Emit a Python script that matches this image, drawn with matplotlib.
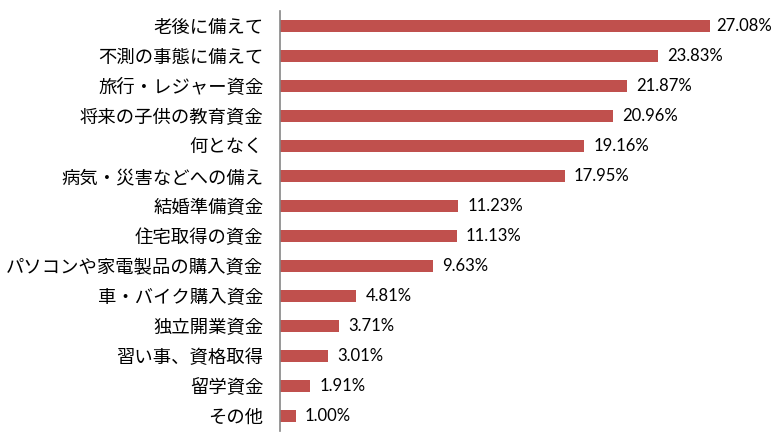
import matplotlib
matplotlib.use("Agg")
import matplotlib.pyplot as plt

plt.rcParams['font.family'] = ['Noto Sans CJK JP', 'DejaVu Sans']

categories = ["老後に備えて", "不測の事態に備えて", "旅行・レジャー資金", "将来の子供の教育資金",
              "何となく", "病気・災害などへの備え", "結婚準備資金", "住宅取得の資金",
              "パソコンや家電製品の購入資金", "車・バイク購入資金", "独立開業資金",
              "習い事、資格取得", "留学資金", "その他"]
values = [27.08, 23.83, 21.87, 20.96, 19.16, 17.95, 11.23, 11.13, 9.63, 4.81, 3.71, 3.01, 1.91, 1.00]
value_labels = ["27.08%", "23.83%", "21.87%", "20.96%", "19.16%", "17.95%", "11.23%", "11.13%",
                "9.63%", "4.81%", "3.71%", "3.01%", "1.91%", "1.00%"]

W, H = 777, 437
fig = plt.figure(figsize=(W / 100, H / 100), dpi=100)
xmax = 30.0
px_per_unit = 430 / 27.08
ax_w = xmax * px_per_unit
ax = fig.add_axes([280 / W, (H - 431) / H, ax_w / W, 420 / H])

ypos = list(range(len(categories)))
ax.barh(ypos, values, height=0.4, color="#C0504D")
ax.set_ylim(len(categories) - 0.5, -0.5)
ax.set_xlim(0, xmax)
ax.set_yticks(ypos)
ax.set_yticklabels(categories, fontsize=13.2, color="#000000")
ax.tick_params(axis='y', length=0, pad=12)
ax.set_xticks([])
for s in ["top", "right", "bottom"]:
    ax.spines[s].set_visible(False)
ax.spines["left"].set_color("#868686")
ax.spines["left"].set_linewidth(1.2)

fig.canvas.draw()
renderer = fig.canvas.get_renderer()
for y, v, lab in zip(ypos, values, value_labels):
    t = ax.annotate(lab, xy=(v, y), xytext=(6.5, 0), textcoords="offset points",
                    va="center", ha="left", fontsize=12, family=["Lato", "DejaVu Sans"],
                    color="#000000")
    bb = t.get_window_extent(renderer)
    if bb.x1 > W - 5:
        t.set_position((6.5 - (bb.x1 - (W - 5)) * 72 / 100, 0))

fig.savefig("out.png", dpi=100)
